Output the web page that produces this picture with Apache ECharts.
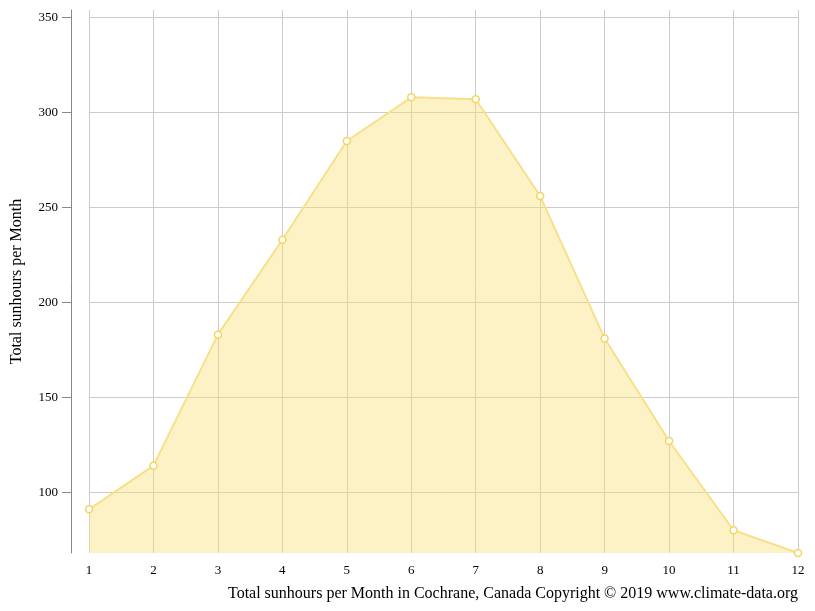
<!DOCTYPE html>
<html><head><meta charset="utf-8">
<script src="https://cdn.jsdelivr.net/npm/echarts@6/dist/echarts.min.js"></script>
<style>html,body{margin:0;padding:0;background:#fff}#c{width:815px;height:611px}</style>
</head><body><div id="c"></div>
<script>
const months = ['1','2','3','4','5','6','7','8','9','10','11','12'];
const sunhours = [91, 114, 183, 233, 285, 308, 307, 256, 181, 127, 80, 68];
const yTicks = [100, 150, 200, 250, 300, 350];
const font = 'Liberation Serif';
const chart = echarts.init(document.getElementById('c'));
chart.setOption({
  animation: false,
  textStyle: {fontFamily: font},
  grid: {left: 89, right: 17, top: 10, bottom: 58},
  title: {text: 'Total sunhours per Month in Cochrane, Canada Copyright © 2019 www.climate-data.org',
    right: 12, bottom: 4, textStyle: {fontFamily: font, fontSize: 16, fontWeight: 'normal', color: '#000'}},
  xAxis: {type: 'category', data: months, boundaryGap: false,
    axisLine: {show: false}, axisTick: {show: false},
    axisLabel: {color: '#000', fontSize: 13, margin: 11, fontFamily: font},
    splitLine: {show: true, lineStyle: {color: '#ccc'}}},
  yAxis: {type: 'value', min: 68, max: 354, offset: 18,
    name: 'Total sunhours per Month', nameLocation: 'middle', nameGap: 46,
    nameTextStyle: {fontSize: 16, color: '#000', fontFamily: font},
    axisLine: {show: true, lineStyle: {color: '#888'}},
    axisTick: {show: true, inside: false, customValues: yTicks, length: 9, lineStyle: {color: '#888'}},
    axisLabel: {customValues: yTicks, color: '#000', fontSize: 13, fontFamily: font, margin: 13},
    splitLine: {show: true, lineStyle: {color: '#ccc'}}},
  series: [{type: 'line', data: sunhours, symbol: 'circle', symbolSize: 7,
    lineStyle: {color: '#f8e08a', width: 2},
    itemStyle: {color: '#fff', borderColor: '#f5d560', borderWidth: 1.5},
    areaStyle: {color: 'rgba(247,224,120,0.6)'}}]
});
</script></body></html>
